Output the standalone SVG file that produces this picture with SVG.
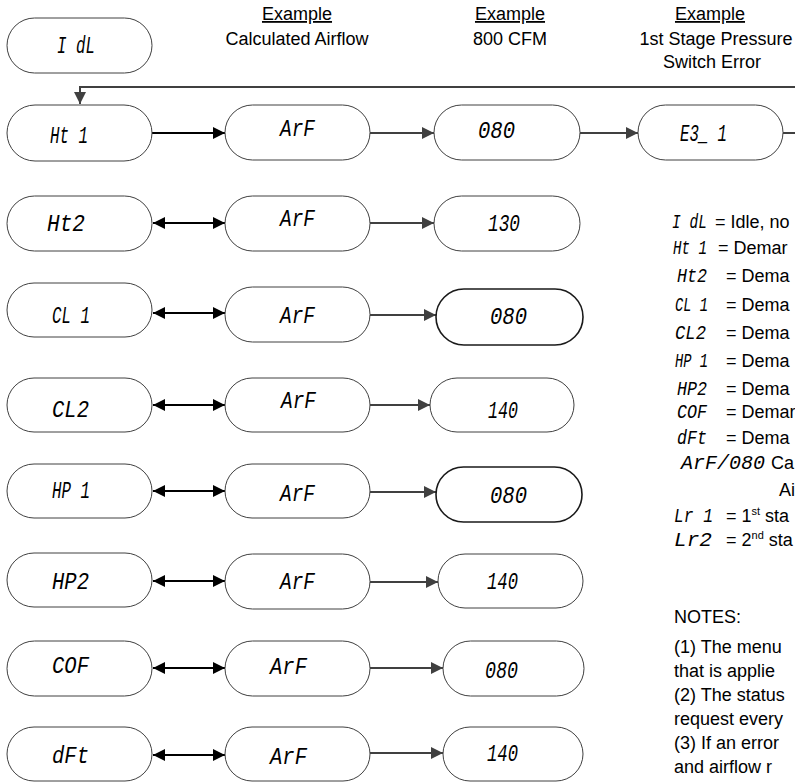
<svg xmlns="http://www.w3.org/2000/svg" width="795" height="782" viewBox="0 0 795 782">
  <style>
    .node { fill: #ffffff; stroke: #404040; stroke-width: 1; }
    .node.bold { stroke: #1a1a1a; stroke-width: 1.6; }
    .lcd { font-family: "Liberation Mono", "DejaVu Sans Mono", monospace; font-style: italic; font-size: 24px; fill: #000; }
    .lcds { font-family: "Liberation Mono", "DejaVu Sans Mono", monospace; font-style: italic; font-size: 20px; fill: #000; }
    .lbl { font-family: "Liberation Sans", Arial, sans-serif; font-size: 18px; fill: #000; }
    .hdr { font-family: "Liberation Sans", Arial, sans-serif; font-size: 18px; fill: #000; text-anchor: middle; }
    .link { fill: none; stroke: #000; stroke-width: 2; }
    .flow { fill: none; stroke: #404040; stroke-width: 2; }
  </style>
  <defs>
    <marker id="tipBlack" viewBox="0 0 10 10" refX="10" refY="5" markerWidth="12" markerHeight="12" markerUnits="userSpaceOnUse" orient="auto-start-reverse">
      <path d="M0,0 L10,5 L0,10 z" fill="#000"/>
    </marker>
    <marker id="tipGray" viewBox="0 0 10 10" refX="10" refY="5" markerWidth="12" markerHeight="12" markerUnits="userSpaceOnUse" orient="auto">
      <path d="M0,0 L10,5 L0,10 z" fill="#404040"/>
    </marker>
  </defs>

  <rect width="795" height="782" fill="#ffffff"/>

  <!-- column headings -->
  <g id="headings">
    <text class="hdr" x="297" y="20" text-decoration="underline">Example</text>
    <text class="hdr" x="297" y="45">Calculated Airflow</text>
    <text class="hdr" x="510" y="20" text-decoration="underline">Example</text>
    <text class="hdr" x="510" y="45">800 CFM</text>
    <text class="hdr" x="710" y="20" text-decoration="underline">Example</text>
    <text class="hdr" x="716" y="45">1st Stage Pressure</text>
    <text class="hdr" x="712" y="68">Switch Error</text>
  </g>

  <!-- connectors -->
  <g id="connectors">
    <path class="flow" d="M795,87 H80 V104" marker-end="url(#tipGray)"/>
    <line class="link" x1="152" y1="133" x2="225" y2="133" marker-end="url(#tipBlack)"/>
    <line class="flow" x1="370" y1="133" x2="434" y2="133" marker-end="url(#tipGray)"/>
    <line class="flow" x1="580" y1="133" x2="638" y2="133" marker-end="url(#tipGray)"/>
    <line class="flow" x1="783" y1="133" x2="795" y2="133"/>

    <line class="link" x1="153" y1="223" x2="225" y2="223" marker-start="url(#tipBlack)" marker-end="url(#tipBlack)"/>
    <line class="flow" x1="370" y1="223" x2="434" y2="223" marker-end="url(#tipGray)"/>

    <line class="link" x1="153" y1="313" x2="225" y2="313" marker-start="url(#tipBlack)" marker-end="url(#tipBlack)"/>
    <line class="flow" x1="370" y1="315" x2="436" y2="315" marker-end="url(#tipGray)"/>

    <line class="link" x1="153" y1="405" x2="225" y2="405" marker-start="url(#tipBlack)" marker-end="url(#tipBlack)"/>
    <line class="flow" x1="370" y1="405" x2="430" y2="405" marker-end="url(#tipGray)"/>

    <line class="link" x1="153" y1="491" x2="225" y2="491" marker-start="url(#tipBlack)" marker-end="url(#tipBlack)"/>
    <line class="flow" x1="370" y1="492" x2="436" y2="492" marker-end="url(#tipGray)"/>

    <line class="link" x1="153" y1="581" x2="225" y2="581" marker-start="url(#tipBlack)" marker-end="url(#tipBlack)"/>
    <line class="flow" x1="370" y1="582" x2="438" y2="582" marker-end="url(#tipGray)"/>

    <line class="link" x1="153" y1="668" x2="225" y2="668" marker-start="url(#tipBlack)" marker-end="url(#tipBlack)"/>
    <line class="flow" x1="370" y1="668" x2="443" y2="668" marker-end="url(#tipGray)"/>

    <line class="link" x1="153" y1="755" x2="225" y2="755" marker-start="url(#tipBlack)" marker-end="url(#tipBlack)"/>
    <line class="flow" x1="370" y1="753" x2="443" y2="753" marker-end="url(#tipGray)"/>
  </g>

  <!-- idle state -->
  <g id="idle">
    <rect class="node" x="7" y="18" width="145" height="55" rx="27.5"/>
    <text class="lcd" x="57" y="53" textLength="38" lengthAdjust="spacingAndGlyphs">I dL</text>
  </g>

  <!-- row 1: HT1 -->
  <g id="ht1">
    <rect class="node" x="7" y="105" width="145" height="56" rx="28"/>
    <text class="lcd" x="50" y="143" textLength="38" lengthAdjust="spacingAndGlyphs">Ht 1</text>
  </g>
  <g id="ht1-arf">
    <rect class="node" x="225" y="105" width="145" height="55" rx="27.5"/>
    <text class="lcd" x="280" y="136" textLength="35" lengthAdjust="spacingAndGlyphs">ArF</text>
  </g>
  <g id="ht1-cfm">
    <rect class="node" x="434" y="105" width="146" height="55" rx="27.5"/>
    <text class="lcd" x="478" y="138" textLength="37" lengthAdjust="spacingAndGlyphs">080</text>
  </g>
  <g id="ht1-err">
    <rect class="node" x="638" y="105" width="145" height="55" rx="27.5"/>
    <text class="lcd" x="680" y="141" textLength="47" lengthAdjust="spacingAndGlyphs">E3_ 1</text>
  </g>

  <!-- row 2: HT2 -->
  <g id="ht2">
    <rect class="node" x="7" y="196" width="145" height="55" rx="27.5"/>
    <text class="lcd" x="47" y="231" textLength="38" lengthAdjust="spacingAndGlyphs">Ht2</text>
  </g>
  <g id="ht2-arf">
    <rect class="node" x="225" y="196" width="145" height="55" rx="27.5"/>
    <text class="lcd" x="280" y="226" textLength="35" lengthAdjust="spacingAndGlyphs">ArF</text>
  </g>
  <g id="ht2-cfm">
    <rect class="node" x="434" y="196" width="146" height="55" rx="27.5"/>
    <text class="lcd" x="488" y="231" textLength="32" lengthAdjust="spacingAndGlyphs">130</text>
  </g>

  <!-- row 3: CL1 -->
  <g id="cl1">
    <rect class="node" x="7" y="283" width="145" height="54" rx="27"/>
    <text class="lcd" x="52" y="323" textLength="38" lengthAdjust="spacingAndGlyphs">CL 1</text>
  </g>
  <g id="cl1-arf">
    <rect class="node" x="225" y="287" width="145" height="55" rx="27.5"/>
    <text class="lcd" x="280" y="323" textLength="35" lengthAdjust="spacingAndGlyphs">ArF</text>
  </g>
  <g id="cl1-cfm">
    <rect class="node bold" x="436" y="289" width="147" height="56" rx="28"/>
    <text class="lcd" x="490" y="324" textLength="37" lengthAdjust="spacingAndGlyphs">080</text>
  </g>

  <!-- row 4: CL2 -->
  <g id="cl2">
    <rect class="node" x="7" y="378" width="145" height="54" rx="27"/>
    <text class="lcd" x="52" y="417" textLength="37" lengthAdjust="spacingAndGlyphs">CL2</text>
  </g>
  <g id="cl2-arf">
    <rect class="node" x="225" y="378" width="145" height="54" rx="27"/>
    <text class="lcd" x="281" y="408" textLength="35" lengthAdjust="spacingAndGlyphs">ArF</text>
  </g>
  <g id="cl2-cfm">
    <rect class="node" x="430" y="378" width="144" height="54" rx="27"/>
    <text class="lcd" x="488" y="418" textLength="30" lengthAdjust="spacingAndGlyphs">140</text>
  </g>

  <!-- row 5: HP1 -->
  <g id="hp1">
    <rect class="node" x="7" y="464" width="145" height="54" rx="27"/>
    <text class="lcd" x="52" y="498" textLength="38" lengthAdjust="spacingAndGlyphs">HP 1</text>
  </g>
  <g id="hp1-arf">
    <rect class="node" x="225" y="464" width="145" height="54" rx="27"/>
    <text class="lcd" x="280" y="501" textLength="35" lengthAdjust="spacingAndGlyphs">ArF</text>
  </g>
  <g id="hp1-cfm">
    <rect class="node bold" x="436" y="467" width="146" height="55" rx="27.5"/>
    <text class="lcd" x="490" y="503" textLength="37" lengthAdjust="spacingAndGlyphs">080</text>
  </g>

  <!-- row 6: HP2 -->
  <g id="hp2">
    <rect class="node" x="7" y="553" width="145" height="54" rx="27"/>
    <text class="lcd" x="52" y="589" textLength="37" lengthAdjust="spacingAndGlyphs">HP2</text>
  </g>
  <g id="hp2-arf">
    <rect class="node" x="225" y="554" width="145" height="55" rx="27.5"/>
    <text class="lcd" x="280" y="589" textLength="35" lengthAdjust="spacingAndGlyphs">ArF</text>
  </g>
  <g id="hp2-cfm">
    <rect class="node" x="438" y="554" width="145" height="54" rx="27"/>
    <text class="lcd" x="487" y="589" textLength="31" lengthAdjust="spacingAndGlyphs">140</text>
  </g>

  <!-- row 7: COF -->
  <g id="cof">
    <rect class="node" x="7" y="641" width="145" height="55" rx="27.5"/>
    <text class="lcd" x="52" y="673" textLength="37" lengthAdjust="spacingAndGlyphs">COF</text>
  </g>
  <g id="cof-arf">
    <rect class="node" x="225" y="641" width="145" height="55" rx="27.5"/>
    <text class="lcd" x="270" y="674" textLength="37" lengthAdjust="spacingAndGlyphs">ArF</text>
  </g>
  <g id="cof-cfm">
    <rect class="node" x="443" y="641" width="141" height="55" rx="27.5"/>
    <text class="lcd" x="485" y="678" textLength="33" lengthAdjust="spacingAndGlyphs">080</text>
  </g>

  <!-- row 8: dFt -->
  <g id="dft">
    <rect class="node" x="7" y="727" width="145" height="54" rx="27"/>
    <text class="lcd" x="52" y="763" textLength="37" lengthAdjust="spacingAndGlyphs">dFt</text>
  </g>
  <g id="dft-arf">
    <rect class="node" x="225" y="727" width="145" height="54" rx="27"/>
    <text class="lcd" x="270" y="764" textLength="37" lengthAdjust="spacingAndGlyphs">ArF</text>
  </g>
  <g id="dft-cfm">
    <rect class="node" x="443" y="727" width="140" height="54" rx="27"/>
    <text class="lcd" x="487" y="761" textLength="31" lengthAdjust="spacingAndGlyphs">140</text>
  </g>

  <!-- legend of display codes -->
  <g id="legend">
    <text class="lcds" x="672" y="228" textLength="35" lengthAdjust="spacingAndGlyphs">I dL</text>
    <text class="lbl" x="715" y="228">= Idle, no</text>
    <text class="lcds" x="673" y="254" textLength="34" lengthAdjust="spacingAndGlyphs">Ht 1</text>
    <text class="lbl" x="718" y="254">= Demar</text>
    <text class="lcds" x="677" y="282" textLength="30" lengthAdjust="spacingAndGlyphs">Ht2</text>
    <text class="lbl" x="726" y="282">= Dema</text>
    <text class="lcds" x="675" y="311" textLength="33" lengthAdjust="spacingAndGlyphs">CL 1</text>
    <text class="lbl" x="726" y="311">= Dema</text>
    <text class="lcds" x="675" y="339" textLength="31" lengthAdjust="spacingAndGlyphs">CL2</text>
    <text class="lbl" x="726" y="339">= Dema</text>
    <text class="lcds" x="675" y="367" textLength="33" lengthAdjust="spacingAndGlyphs">HP 1</text>
    <text class="lbl" x="726" y="367">= Dema</text>
    <text class="lcds" x="677" y="395" textLength="30" lengthAdjust="spacingAndGlyphs">HP2</text>
    <text class="lbl" x="726" y="395">= Dema</text>
    <text class="lcds" x="677" y="418" textLength="30" lengthAdjust="spacingAndGlyphs">COF</text>
    <text class="lbl" x="726" y="418">= Demar</text>
    <text class="lcds" x="677" y="444" textLength="30" lengthAdjust="spacingAndGlyphs">dFt</text>
    <text class="lbl" x="726" y="444">= Dema</text>
    <text class="lcds" x="681" y="469" textLength="84" lengthAdjust="spacingAndGlyphs">ArF/080</text>
    <text class="lbl" x="771" y="469">Ca</text>
    <text class="lbl" x="779" y="496">Ai</text>
    <text class="lcds" x="674" y="522" textLength="39" lengthAdjust="spacingAndGlyphs">Lr 1</text>
    <text class="lbl" x="726" y="522">= 1<tspan font-size="11" dy="-7">st</tspan><tspan dy="7"> sta</tspan></text>
    <text class="lcds" x="674" y="546" textLength="38" lengthAdjust="spacingAndGlyphs">Lr2</text>
    <text class="lbl" x="726" y="546">= 2<tspan font-size="11" dy="-7">nd</tspan><tspan dy="7"> sta</tspan></text>
  </g>

  <!-- notes -->
  <g id="notes">
    <text class="lbl" x="674" y="623">NOTES:</text>
    <text class="lbl" x="674" y="653">(1) The menu</text>
    <text class="lbl" x="674" y="677">that is applie</text>
    <text class="lbl" x="674" y="701">(2) The status</text>
    <text class="lbl" x="674" y="725">request every</text>
    <text class="lbl" x="674" y="749">(3) If an error</text>
    <text class="lbl" x="674" y="773">and airflow r</text>
  </g>
</svg>
